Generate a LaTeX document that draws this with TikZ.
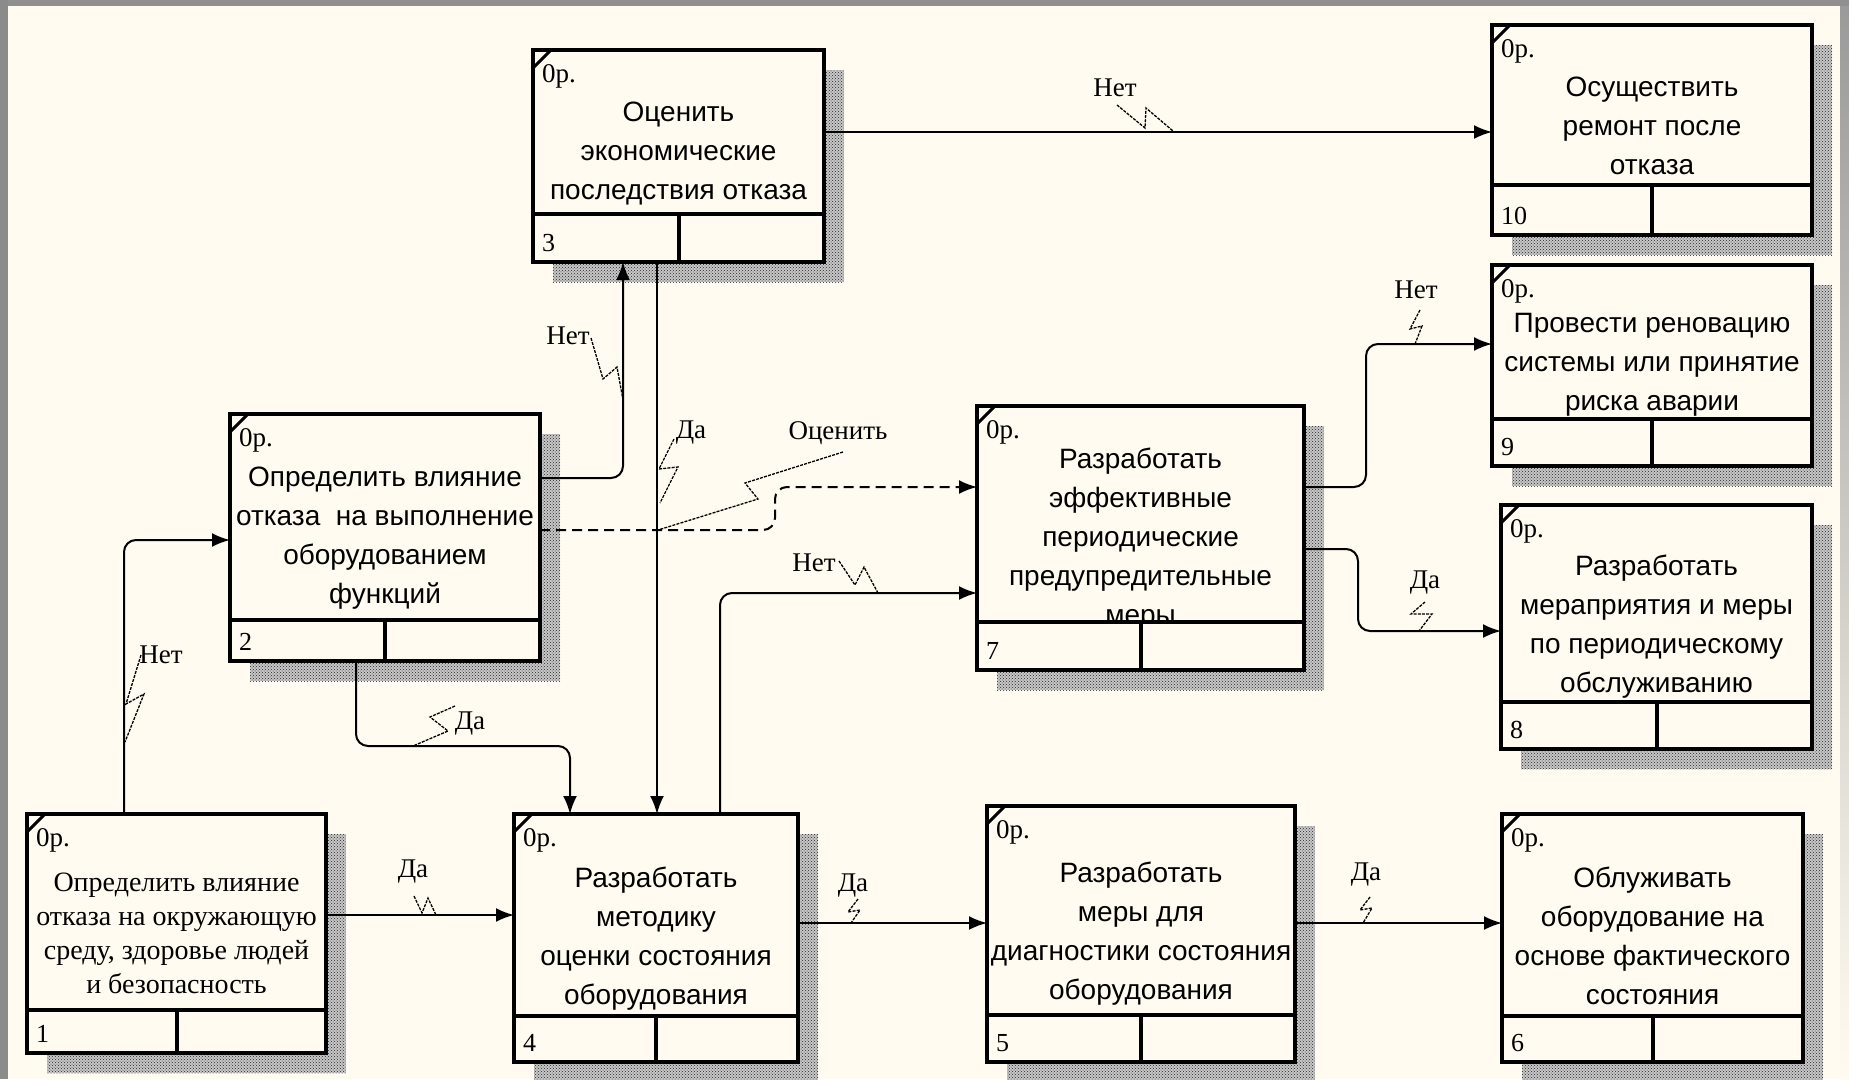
\documentclass[tikz,border=0pt]{standalone}
\usepackage{fontspec}
\setmainfont{Liberation Serif}
\newfontfamily\boxfont{Liberation Sans}
\usetikzlibrary{arrows.meta,calc,patterns}

\definecolor{paper}{HTML}{FFFBF0}
\definecolor{framegray}{HTML}{9A9A9A}

\newcommand\bodyfont{\boxfont\fontsize{28}{39}\selectfont}

\tikzset{
  x=1pt, y=-1pt,
  fbox/.style={draw, line width=4pt, fill=paper, rectangle, inner sep=0pt, outer sep=0pt},
  cellline/.style={line width=4pt},
  cornertick/.style={line width=3pt},
  hatchbase/.style={fill=black!22},
  hatchfill/.style={pattern=crosshatch dots, pattern color=black!85},
  conn/.style={line width=2pt, rounded corners=12pt, -{Latex[length=18pt,width=14pt]}},
  dashconn/.style={conn, dash pattern=on 10pt off 6pt},
  lbl/.style={font=\fontsize{27}{30}\selectfont, inner sep=0pt},
  squig/.style={line width=1.3pt, dash pattern=on 3pt off 1.2pt},
  tagtext/.style={font=\fontsize{27}{30}\selectfont, inner sep=0pt, anchor=west},
  cellnum/.style={font=\fontsize{26}{30}\selectfont, inner sep=0pt, anchor=west},
  btext/.style={font=\bodyfont, align=center, inner sep=0pt},
}

% IDEF0 activity box: #1 name, #2/#3 top-left corner, #4 width, #5 height,
% #6 depth of the lower cell line, #7 number, #8 depth of the text centre, #9 text
\newcommand\idefbox[9]{%
  \fill[hatchbase] (#2+20,#3+20) rectangle (#2+#4+20,#3+#5+20);
  \fill[hatchfill] (#2+20,#3+20) rectangle (#2+#4+20,#3+#5+20);
  \node[fbox, minimum width=#4pt, minimum height=#5pt, anchor=north west] (#1) at (#2,#3) {};
  \node[btext] (#1-t) at ($(#1.north)+(0,#8)$) {#9};
  \fill[paper] ($(#1.north west)+(2,#6+2)$) rectangle ($(#1.south east)+(-2,-2)$);
  \draw[cellline] ($(#1.north west)+(0,#6)$) -- ($(#1.north east)+(0,#6)$);
  \draw[cellline] ($(#1.north)+(0,#6)$) -- (#1.south);
  \draw[cornertick] ($(#1.north west)+(0,18)$) -- ($(#1.north west)+(18,0)$);
  \node[tagtext] (#1-c) at ($(#1.north west)+(9,26)$) {0р.};
  \node[cellnum] (#1-n) at ($(#1.south west)+(9,-19)$) {#7};
}

\begin{document}
\begin{tikzpicture}
\useasboundingbox (0,0) rectangle (1849,1079);
\clip (0,0) rectangle (1849,1079);

% sheet and frame
\fill[paper] (0,0) rectangle (1849,1079);
\shade[top color=framegray, bottom color=paper] (1840,0) rectangle (1849,1079);
\fill[framegray!110] (0,0) rectangle (1849,6);
\fill[framegray!90!black] (0,0) rectangle (8,1079);

% activity boxes
\begin{scope}
\renewcommand\bodyfont{\rmfamily\fontsize{28}{34}\selectfont}
\idefbox{b1}{27}{814}{299}{239}{196}{1}{122}{\strut Определить влияние\\\strut отказа на окружающую\\\strut среду, здоровье людей\\\strut и безопасность}
\end{scope}
\idefbox{b2}{230}{414}{310}{247}{206}{2}{123.5}{\strut Определить влияние\\\strut отказа\ \ на выполнение\\\strut оборудованием\\\strut функций}
\idefbox{b3}{533}{50}{291}{212}{164}{3}{103}{\strut Оценить\\\strut экономические\\\strut последствия отказа}
\idefbox{b4}{514}{814}{284}{248}{202}{4}{124}{\strut Разработать\\\strut методику\\\strut оценки состояния\\\strut оборудования}
\idefbox{b5}{987}{806}{308}{256}{209}{5}{127.5}{\strut Разработать\\\strut меры для\\\strut диагностики состояния\\\strut оборудования}
\idefbox{b6}{1502}{814}{301}{248}{202}{6}{124}{\strut Облуживать\\\strut оборудование на\\\strut основе фактического\\\strut состояния}
\idefbox{b7}{977}{406}{327}{264}{216}{7}{133}{\strut Разработать\\\strut эффективные\\\strut периодические\\\strut предупредительные\\\strut меры}
\idefbox{b8}{1501}{505}{311}{244}{197}{8}{121}{\strut Разработать\\\strut мераприятия и меры\\\strut по периодическому\\\strut обслуживанию}
\idefbox{b9}{1492}{265}{320}{201}{154}{9}{99}{\strut Провести реновацию\\\strut системы или принятие\\\strut риска аварии}
\idefbox{b10}{1492}{25}{320}{210}{160}{10}{103}{\strut Осуществить\\\strut ремонт после\\\strut отказа}

% arrows
\draw[conn] ($(b3.north east)+(0,82)$) -- ($(b10.north west)+(0,107)$);
\draw[conn] ($(b2.north east)+(0,64)$) -| ($(b3.south west)+(90,0)$);
\draw[conn] ($(b3.south west)+(124,0)$) -- ($(b4.north west)+(143,0)$);
\draw[dashconn] ($(b2.north east)+(0,116)$) -- ++(235,0) |- ($(b7.north west)+(0,81)$);
\draw[conn] ($(b1.north west)+(97,0)$) |- ($(b2.north west)+(0,126)$);
\draw[conn] ($(b2.south west)+(126,0)$) -- ++(0,85) -| ($(b4.north west)+(56,0)$);
\draw[conn] ($(b1.north east)+(0,101)$) -- ($(b4.north west)+(0,101)$);
\draw[conn] ($(b4.north west)+(206,0)$) |- ($(b7.north west)+(0,187)$);
\draw[conn] ($(b4.north east)+(0,109)$) -- ($(b5.north west)+(0,117)$);
\draw[conn] ($(b5.north east)+(0,117)$) -- ($(b6.north west)+(0,109)$);
\draw[conn] ($(b7.north east)+(0,81)$) -- ++(62,0) |- ($(b9.north west)+(0,79)$);
\draw[conn] ($(b7.north east)+(0,143)$) -- ++(54,0) |- ($(b8.north west)+(0,126)$);

% arrow labels with their leaders
\node[lbl] (l1) at (1115,88) {Нет};
\draw[squig] (1117,105) -- (1145,128) -- (1146,108) -- (1173,131);
\node[lbl] (l2) at (568,336) {Нет};
\draw[squig] (591,338) -- (603,379) -- (617,367) -- (623,400);
\node[lbl] (l3) at (691,433) {Да};
\draw[squig] (674,439) -- (659,469) -- (678,467) -- (660,503);
\node[lbl] (l4) at (838,433) {Оценить};
\draw[squig] (843,452) -- (745,483) -- (758,499) -- (658,530);
\node[lbl] (l5) at (161,655) {Нет};
\draw[squig] (141,655) -- (126,704) -- (144,694) -- (125,742);
\node[lbl] (l6) at (470,724) {Да};
\draw[squig] (455,706) -- (430,717) -- (448,731) -- (413,746);
\node[lbl] (l7) at (413,872) {Да};
\draw[squig] (414,896) -- (422,913) -- (428,898) -- (436,915);
\node[lbl] (l8) at (814,563) {Нет};
\draw[squig] (839,561) -- (855,585) -- (864,567) -- (878,593);
\node[lbl] (l9) at (853,886) {Да};
\draw[squig] (858,899) -- (848,912) -- (860,910) -- (851,923);
\node[lbl] (l10) at (1366,875) {Да};
\draw[squig] (1370,897) -- (1360,910) -- (1372,908) -- (1363,923);
\node[lbl] (l11) at (1416,290) {Нет};
\draw[squig] (1420,310) -- (1410,329) -- (1422,326) -- (1415,344);
\node[lbl] (l12) at (1425,583) {Да};
\draw[squig] (1425,602) -- (1411,614) -- (1432,614) -- (1419,631);
\end{tikzpicture}
\end{document}
